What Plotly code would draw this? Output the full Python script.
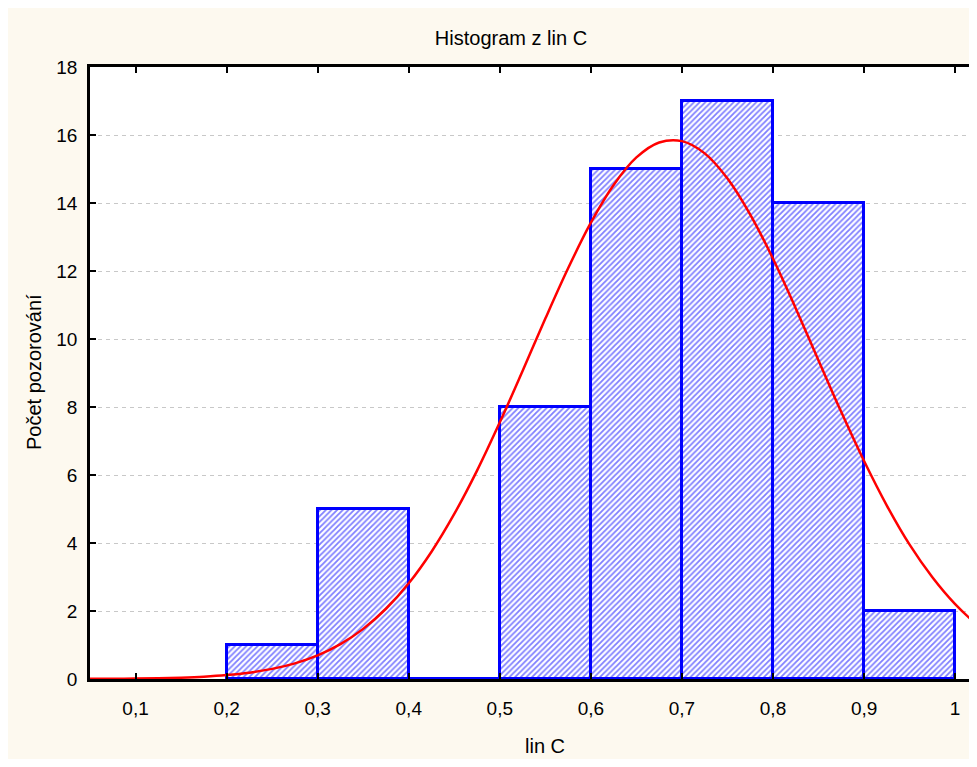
import plotly.graph_objects as go

# ---- data ----
bin_centers = [0.25, 0.35, 0.45, 0.55, 0.65, 0.75, 0.85, 0.95]
bin_counts = [1, 5, 0, 8, 15, 17, 14, 2]
bin_width = 0.1

curve_x = [0.05, 0.075, 0.1, 0.125, 0.15, 0.175, 0.2, 0.225, 0.25, 0.275, 0.3,
           0.325, 0.35, 0.375, 0.4, 0.425, 0.45, 0.475, 0.5, 0.525, 0.55, 0.575,
           0.6, 0.625, 0.65, 0.675, 0.7, 0.725, 0.75, 0.775, 0.8, 0.825, 0.85,
           0.875, 0.9, 0.925, 0.95, 0.975, 1.0, 1.025, 1.05]
curve_y = [0.004, 0.007, 0.012, 0.022, 0.04, 0.068, 0.114, 0.186, 0.297, 0.461, 0.696,
           1.025, 1.474, 2.066, 2.815, 3.744, 4.855, 6.13, 7.55, 9.06, 10.60, 12.08,
           13.42, 14.53, 15.34, 15.78, 15.82, 15.46, 14.72, 13.66, 12.36, 10.90, 9.37,
           7.85, 6.41, 5.10, 3.95, 2.99, 2.20, 1.58, 1.10]

x_tickvals = [0.1, 0.2, 0.3, 0.4, 0.5, 0.6, 0.7, 0.8, 0.9, 1.0]
x_ticktext = ["0,1", "0,2", "0,3", "0,4", "0,5", "0,6", "0,7", "0,8", "0,9", "1"]
y_tickvals = [0, 2, 4, 6, 8, 10, 12, 14, 16, 18]
y_ticktext = ["0", "2", "4", "6", "8", "10", "12", "14", "16", "18"]

title_text = "Histogram z lin C"
x_title = "lin C"
y_title = "Počet pozorování"

FONT = "Liberation Sans, Arial, sans-serif"

# page is offset by the 8px body margin
OFF = 8
W, H = 977 - OFF, 767 - 2 * OFF
L, T, B = 90 - OFF, 67 - OFF, 679 - OFF
PW = 977 - 90  # visible plot width
PH = 679 - 67

fig = go.Figure()

fig.add_trace(go.Bar(
    x=bin_centers, y=bin_counts, width=bin_width,
    marker=dict(
        color="white",
        pattern=dict(shape="/", fgcolor="#0000ff", bgcolor="white", size=4, solidity=0.45),
        line=dict(color="#0000ff", width=3),
    ),
    showlegend=False, hoverinfo="skip",
))

fig.add_trace(go.Scatter(
    x=curve_x, y=curve_y, mode="lines", line=dict(color="#ff0000", width=2.5, shape="spline"),
    showlegend=False, hoverinfo="skip",
))

fig.update_layout(
    width=W, height=H,
    margin=dict(l=L, r=W - L - PW, t=T, b=H - B, pad=0),
    paper_bgcolor="#fdf9ef",
    plot_bgcolor="white",
    bargap=0,
    font=dict(family=FONT, size=19, color="black"),
    title=dict(text=title_text, x=(511 - OFF) / W, xref="container", xanchor="center",
               y=1 - (38 - OFF) / H, yref="container", yanchor="middle",
               font=dict(family=FONT, size=20, color="black")),
    annotations=[
        dict(text=x_title, xref="paper", yref="paper", x=(545 - 90) / PW, y=(679 - 746) / PH,
             xanchor="center", yanchor="middle", showarrow=False, font=dict(family=FONT, size=20)),
        dict(text=y_title, xref="paper", yref="paper", x=(34 - 90) / PW, y=(679 - 372) / PH,
             xanchor="center", yanchor="middle", textangle=-90, showarrow=False,
             font=dict(family=FONT, size=20)),
    ],
)

fig.update_xaxes(
    range=[0.05, 1.024], tickvals=x_tickvals, ticktext=x_ticktext,
    ticks="inside", ticklen=6, tickwidth=2, tickcolor="black",
    showline=True, linecolor="black", linewidth=2.5, mirror="ticks",
    showgrid=False, zeroline=False, ticklabelstandoff=10,
)
fig.update_yaxes(
    range=[0, 18], tickvals=y_tickvals, ticktext=y_ticktext,
    ticks="inside", ticklen=6, tickwidth=2, tickcolor="black",
    showline=True, linecolor="black", linewidth=2.5,
    showgrid=True, gridcolor="#c8c8c8", gridwidth=1, griddash="4px,4px",
    zeroline=False, ticklabelstandoff=6,
)

fig.write_html("out.html")
